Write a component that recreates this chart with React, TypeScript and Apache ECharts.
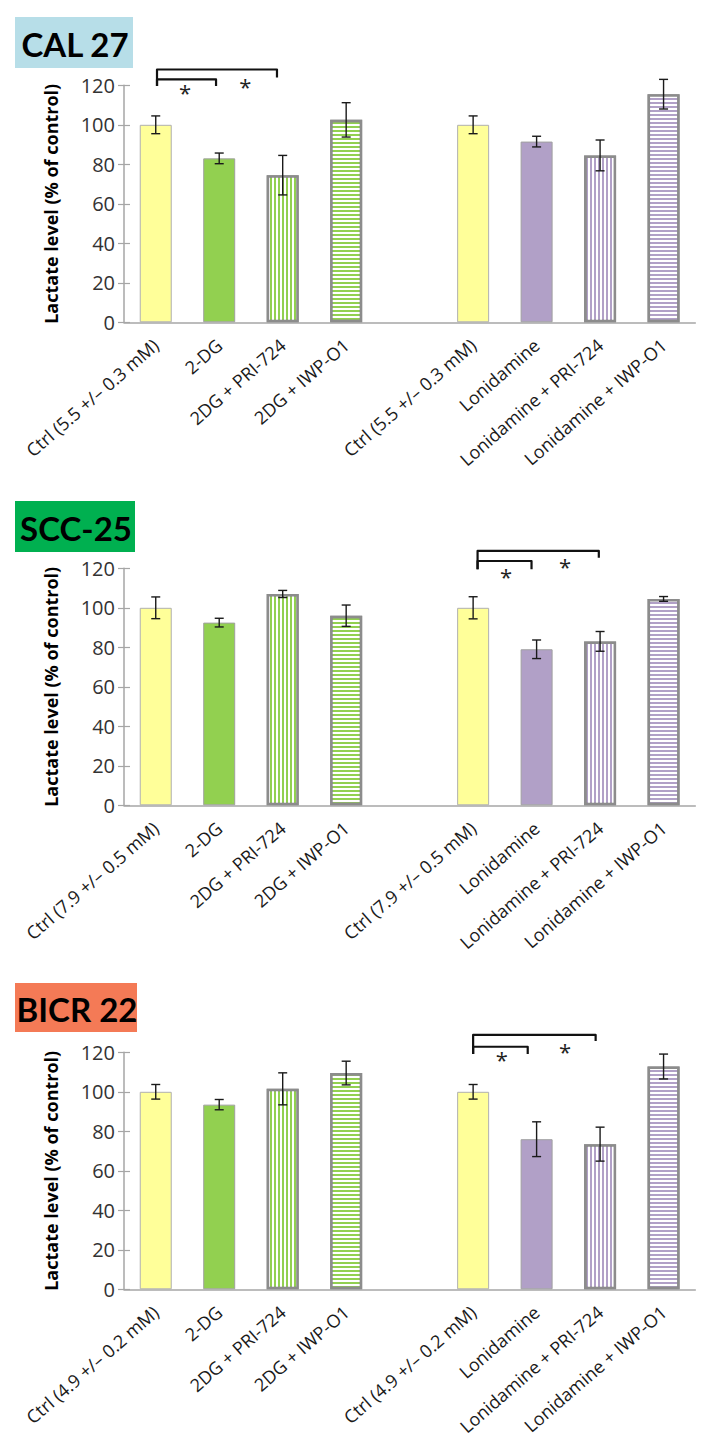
import React, { useEffect, useRef } from 'react';
import * as echarts from 'echarts';

const panelTitles = ['CAL 27', 'SCC-25', 'BICR 22'];

const cal27Categories = ['Ctrl (5.5 +/– 0.3 mM)', '2-DG', '2DG + PRI-724', '2DG + IWP-O1', '', 'Ctrl (5.5 +/– 0.3 mM)', 'Lonidamine', 'Lonidamine + PRI-724', 'Lonidamine + IWP-O1'];
const scc25Categories = ['Ctrl (7.9 +/– 0.5 mM)', '2-DG', '2DG + PRI-724', '2DG + IWP-O1', '', 'Ctrl (7.9 +/– 0.5 mM)', 'Lonidamine', 'Lonidamine + PRI-724', 'Lonidamine + IWP-O1'];
const bicr22Categories = ['Ctrl (4.9 +/– 0.2 mM)', '2-DG', '2DG + PRI-724', '2DG + IWP-O1', '', 'Ctrl (4.9 +/– 0.2 mM)', 'Lonidamine', 'Lonidamine + PRI-724', 'Lonidamine + IWP-O1'];

const cal27Values = [100, 83, 74.5, 102.5, null, 100, 91.5, 84.5, 115.5];
const cal27Errors = [4.5, 2.7, 10, 8.7, null, 4.5, 2.7, 7.8, 7.5];
const scc25Values = [100, 92.5, 107, 96, null, 100, 79, 83, 104.5];
const scc25Errors = [5.5, 2.2, 1.8, 5.4, null, 5.6, 4.7, 5, 1.2];
const bicr22Values = [100, 93.5, 101.5, 109.5, null, 100, 76, 73.5, 112.8];
const bicr22Errors = [3.7, 2.6, 8.1, 6, null, 3.7, 8.8, 8.6, 6.3];

const yTicks = [0, 20, 40, 60, 80, 100, 120];

// significance brackets: category positions (fractional) and value levels
const cal27Brackets = [
  { from: 0.02, to: 1.91, top: 128, leftBottom: 119.7, rightBottom: 124 },
  { from: 0.02, to: 0.95, top: 123, leftBottom: 119.7, rightBottom: 119.7 },
];
const cal27Stars = [[0.46, 118.5], [1.41, 121.5]];
const scc25Brackets = [
  { from: 5.07, to: 6.98, top: 128.8, leftBottom: 119.5, rightBottom: 125.4 },
  { from: 5.07, to: 5.92, top: 123.7, leftBottom: 119.5, rightBottom: 119.5 },
];
const scc25Stars = [[5.52, 118], [6.45, 123.3]];
const bicr22Brackets = [
  { from: 5.0, to: 6.93, top: 128.8, leftBottom: 119.1, rightBottom: 125.7 },
  { from: 5.0, to: 5.86, top: 122.8, leftBottom: 119.1, rightBottom: 119.1 },
];
const bicr22Stars = [[5.45, 118.6], [6.45, 122.8]];

const panels = [
  { title: panelTitles[0], cats: cal27Categories, values: cal27Values, errors: cal27Errors, brackets: cal27Brackets, stars: cal27Stars },
  { title: panelTitles[1], cats: scc25Categories, values: scc25Values, errors: scc25Errors, brackets: scc25Brackets, stars: scc25Stars },
  { title: panelTitles[2], cats: bicr22Categories, values: bicr22Values, errors: bicr22Errors, brackets: bicr22Brackets, stars: bicr22Stars },
];

// layout / style (not data)
const gridTops = [85.3, 568.3, 1052.3];
const gridHeight = 237;
const titleBoxes = [
  { x: 15, y: 17, w: 118, h: 51, fill: '#b7dee8' },
  { x: 15, y: 501, w: 120, h: 51, fill: '#00b050' },
  { x: 15, y: 983, w: 122, h: 49, fill: '#f47a56' },
];

const YELLOW = '#ffff99';
const GREEN = '#92d050';
const PURPLE = '#b1a0c7';

const vDecal = (w: number, g: number) => ({ symbol: 'rect', symbolSize: 1, dashArrayX: [w, g], dashArrayY: [1, 0], color: '#ffffff', rotation: 0 });
const hDecal = (w: number, g: number) => ({ symbol: 'rect', symbolSize: 1, dashArrayX: [1, 0], dashArrayY: [w, g], color: '#ffffff', rotation: 0 });

const barStyles: any[] = [
  { color: YELLOW, borderColor: '#b0b0b0', borderWidth: 1 },
  { color: GREEN, borderColor: '#a0a0a0', borderWidth: 1 },
  { color: GREEN, borderColor: '#8c8c8c', borderWidth: 2.5, decal: vDecal(1.2, 2) },
  { color: GREEN, borderColor: '#8c8c8c', borderWidth: 2.5, decal: hDecal(1.2, 2) },
  null,
  { color: YELLOW, borderColor: '#b0b0b0', borderWidth: 1 },
  { color: PURPLE, borderColor: '#a0a0a0', borderWidth: 1 },
  { color: PURPLE, borderColor: '#8c8c8c', borderWidth: 2.5, decal: vDecal(1.3, 1.7) },
  { color: PURPLE, borderColor: '#8c8c8c', borderWidth: 2.5, decal: hDecal(1.3, 1.7) },
];

function fracX(api: any, f: number, y: number) {
  const base = Math.floor(f);
  const p = api.coord([base, y]);
  const bw = api.size([1, 0])[0];
  return [p[0] + (f - base) * bw, p[1]];
}

function buildOption() {
  const grid: any[] = [];
  const xAxis: any[] = [];
  const yAxis: any[] = [];
  const series: any[] = [];
  const graphic: any[] = [];

  panels.forEach((p, k) => {
    grid.push({ left: 124, width: 571.3, top: gridTops[k], height: gridHeight, containLabel: false });
    xAxis.push({
      type: 'category',
      gridIndex: k,
      data: p.cats,
      axisLine: { lineStyle: { color: '#a6a6a6', width: 1.5 } },
      axisTick: { show: false },
      axisLabel: { interval: 0, rotate: 41, fontSize: 18, fontFamily: 'Open Sans', color: '#1a1a1a', margin: 20 },
      splitLine: { show: false },
    });
    const yBase = {
      type: 'value',
      gridIndex: k,
      min: yTicks[0],
      max: yTicks[yTicks.length - 1],
      interval: yTicks[1] - yTicks[0],
      position: 'left',
      splitLine: { show: false },
    };
    yAxis.push({
      ...yBase,
      axisLine: { show: true, lineStyle: { color: '#a6a6a6', width: 1.5 } },
      axisTick: { show: true, length: 6, lineStyle: { color: '#a6a6a6', width: 1.2 } },
      axisLabel: { fontSize: 20, fontFamily: 'Open Sans', color: '#333', margin: 9 },
      name: 'Lactate level (% of control)',
      nameLocation: 'middle',
      nameGap: 64,
      nameTextStyle: { fontSize: 18, fontWeight: 'bold', fontFamily: 'Open Sans', color: '#000' },
    });
    yAxis.push({
      ...yBase,
      axisLine: { show: false },
      axisTick: { show: true, inside: true, length: 6, lineStyle: { color: '#a6a6a6', width: 1.2 } },
      axisLabel: { show: false },
    });
    const yIdx = k * 2;

    series.push({
      type: 'bar',
      xAxisIndex: k,
      yAxisIndex: yIdx,
      barWidth: 32,
      data: p.values.map((v, i) => (v == null ? '-' : { value: v, itemStyle: barStyles[i] })),
      z: 2,
    });

    const errData: any[] = [];
    p.values.forEach((v, i) => {
      if (v != null && p.errors[i] != null) errData.push([i, v, p.errors[i]]);
    });
    series.push({
      type: 'custom',
      xAxisIndex: k,
      yAxisIndex: yIdx,
      z: 4,
      data: errData,
      renderItem: (params: any, api: any) => {
        const i = api.value(0);
        const v = api.value(1);
        const e = api.value(2);
        const t = api.coord([i, v + e]);
        const b = api.coord([i, v - e]);
        const cap = 4.5;
        const st = { stroke: '#1a1a1a', lineWidth: 1.4 };
        return {
          type: 'group',
          children: [
            { type: 'line', shape: { x1: t[0], y1: t[1], x2: b[0], y2: b[1] }, style: st },
            { type: 'line', shape: { x1: t[0] - cap, y1: t[1], x2: t[0] + cap, y2: t[1] }, style: st },
            { type: 'line', shape: { x1: b[0] - cap, y1: b[1], x2: b[0] + cap, y2: b[1] }, style: st },
          ],
        };
      },
    });

    const brackets = p.brackets;
    series.push({
      type: 'custom',
      xAxisIndex: k,
      yAxisIndex: yIdx,
      z: 5,
      clip: false,
      data: brackets.map(() => [0, 0]),
      renderItem: (params: any, api: any) => {
        const br = brackets[params.dataIndex];
        const a = fracX(api, br.from, br.leftBottom);
        const b2 = fracX(api, br.from, br.top);
        const c = fracX(api, br.to, br.top);
        const d = fracX(api, br.to, br.rightBottom);
        return {
          type: 'polyline',
          shape: { points: [a, b2, c, d] },
          style: { stroke: '#111', lineWidth: 2.2, fill: null, lineJoin: 'round' },
        };
      },
    });

    const stars = p.stars;
    series.push({
      type: 'custom',
      xAxisIndex: k,
      yAxisIndex: yIdx,
      z: 5,
      clip: false,
      data: stars.map(() => [0, 0]),
      renderItem: (params: any, api: any) => {
        const s = stars[params.dataIndex];
        const pt = fracX(api, s[0], s[1]);
        return {
          type: 'text',
          x: pt[0],
          y: pt[1] + 4,
          style: { text: '*', fontSize: 22, fontFamily: 'Open Sans', fill: '#222', align: 'center', verticalAlign: 'middle' },
        };
      },
    });

    const tb = titleBoxes[k];
    graphic.push({
      type: 'rect',
      shape: { x: tb.x, y: tb.y, width: tb.w, height: tb.h },
      style: { fill: tb.fill },
      z: 10,
    });
    graphic.push({
      type: 'text',
      x: tb.x + tb.w / 2 + 1,
      y: tb.y + tb.h / 2 + 1,
      style: { text: p.title, fontSize: 33, fontWeight: 'bold', fontFamily: 'Lato', fill: '#000', align: 'center', verticalAlign: 'middle' },
      z: 11,
    });
  });

  return {
    animation: false,
    backgroundColor: '#ffffff',
    grid,
    xAxis,
    yAxis,
    series,
    graphic,
  };
}

export default function App() {
  const ref = useRef<HTMLDivElement>(null);
  useEffect(() => {
    if (!ref.current) return;
    const chart = echarts.init(ref.current, undefined, { renderer: 'svg' });
    chart.setOption(buildOption() as any);
    return () => chart.dispose();
  }, []);
  return <div ref={ref} style={{ position: 'absolute', left: 0, top: 0, width: 713, height: 1450 }} />;
}
